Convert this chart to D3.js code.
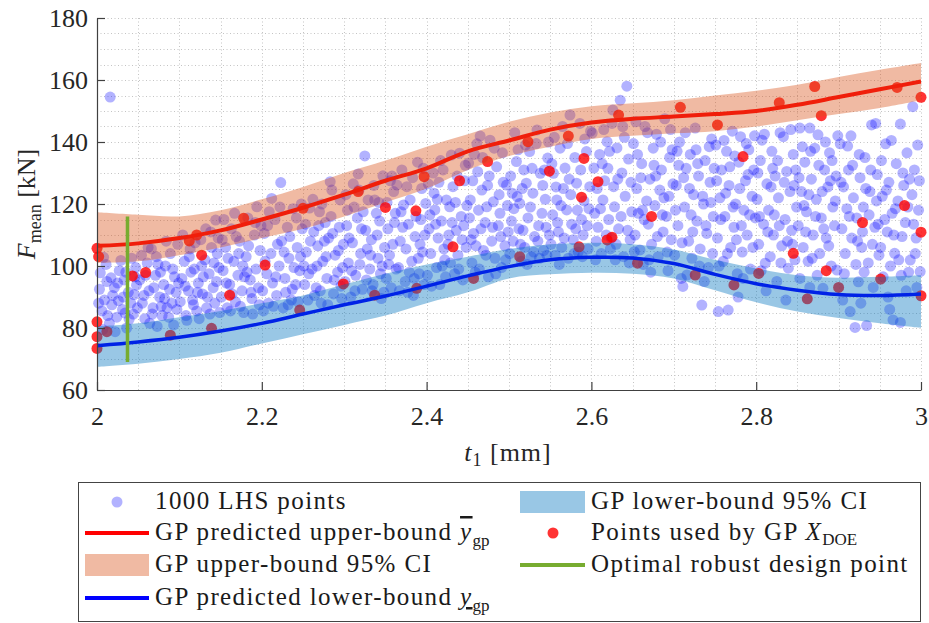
<!DOCTYPE html>
<html>
<head>
<meta charset="utf-8">
<script src="https://cdn.jsdelivr.net/npm/d3@7"></script>
<style>
  body { margin: 0; background: #fff; }
  svg text { font-family: "Liberation Serif", "Times New Roman", "DejaVu Serif", serif; }
</style>
</head>
<body>
<svg id="chart" width="929" height="623"></svg>
<script>
// GP grid of t1 values and predicted bounds
var tGrid = [2.00, 2.05, 2.10, 2.15, 2.20, 2.25, 2.30, 2.35, 2.40, 2.45, 2.50,
             2.55, 2.60, 2.65, 2.70, 2.75, 2.80, 2.85, 2.90, 2.95, 3.00];
var upperMean = [106.5, 107.3, 109, 111.5, 115, 118.8, 123, 127.5, 131.5, 137, 140.5,
                 144, 146.3, 147.5, 148.2, 149, 150, 152, 154.5, 157, 159.5];
var upperLo = [101, 101.5, 103.5, 106, 109, 112, 116, 120.5, 125, 131, 135.5,
               138.5, 141, 142, 142.8, 143.5, 145, 147, 149, 151, 153.5];
var upperHi = [117.3, 116.5, 116, 118, 121.5, 125.5, 130, 134, 138.5, 142.5, 146.5,
               149.5, 151.5, 152.5, 153.5, 155, 156.5, 158.5, 161, 163.3, 165.5];
var lowerMean = [74.3, 75.5, 77, 79, 81.5, 84.5, 87.5, 90.3, 93.5, 96.8, 99.8,
                 102, 102.8, 102.6, 100.8, 97.3, 94.3, 92.2, 90.8, 90.5, 91];
var lowerLo = [67.5, 68.5, 70, 72, 75, 78, 81, 84, 88, 91.5, 96,
               97.3, 97.8, 97.5, 96, 92.2, 88.3, 85.3, 83.2, 81.5, 80];
var lowerHi = [80.5, 81.5, 83.5, 85.5, 88, 90.5, 94, 97.5, 100.5, 103, 105.5,
               107, 107.5, 107, 105.3, 102, 99.2, 97, 96.2, 96.5, 97];

// optimal robust design point (vertical segment)
var optimalT = 2.037;
var optimalRange = [69, 116];

// points used by the GP (X_DOE)
var doePoints = [
  [2.000,105.7],[2.002,103],[2.000,82],[2.000,77.2],[2.000,73.4],[2.012,78.8],[2.043,96.8],[2.059,97.9],
  [2.089,77.7],[2.112,108.1],[2.121,110],[2.127,103.5],[2.139,79.9],[2.161,90.6],[2.178,115.4],[2.204,100.3],
  [2.246,85.8],[2.250,118.6],[2.299,94.2],[2.317,124],[2.337,90.6],[2.350,118.9],[2.387,117.8],[2.388,92.8],
  [2.397,128.8],[2.432,106.2],[2.440,127.5],[2.457,96],[2.474,133.7],[2.513,103],[2.523,140.1],[2.549,130.6],
  [2.572,141.9],[2.585,106.2],[2.588,122.2],[2.591,134.7],[2.608,127.2],[2.619,108.4],[2.625,109.3],[2.633,148.7],
  [2.656,100.9],[2.673,116],[2.708,151.2],[2.726,97.1],[2.753,145.5],[2.773,93.9],[2.784,135.3],[2.803,97.6],
  [2.828,152.7],[2.845,104.1],[2.862,89.4],[2.871,157.9],[2.879,148.5],[2.885,98.5],[2.900,93.1],[2.929,114],
  [2.951,95.8],[2.971,157.6],[2.980,119.5],[3.000,154.4],[3.000,110.9],[3.000,90.4]
];

// 1000 LHS points (slice by slice)
var lhsPoints = [
  [2.003,92.5],[2.006,85.5],[2.004,97.8],[2.009,89],[2.012,95],[2.015,81.5],[2.011,100.5],[2.018,87.5],[2.021,93],[2.016,154.5],
  [2.024,83.5],[2.027,98.5],[2.019,90.5],[2.031,86],[2.033,95.5],[2.029,101.8],[2.036,80],[2.038,91.5],[2.041,88],[2.044,84.5],
  [2.046,96.5],[2.048,93.8],[2.042,102.5],[2.035,98],[2.026,88.8],[2.013,84],[2.007,79.5],[2.022,78.8],[2.039,82.8],[2.047,99.5],
  [2.049,86.5],[2.032,90],[2.017,96.2],[2.008,102.8],[2.002,88],[2.045,90.8],[2.025,94.5],[2.034,84.8],
  [2.052,95.5],[2.055,88],[2.058,83],[2.061,101],[2.063,92],[2.066,105.5],[2.068,86.5],[2.071,97],[2.073,80.5],[2.076,90],
  [2.078,87],[2.081,94],[2.083,100],[2.085,86.5],[2.087,83.5],[2.089,104],[2.091,88],[2.094,96.5],[2.096,91.5],[2.098,107],
  [2.054,103.5],[2.059,97],[2.064,81.5],[2.069,93],[2.074,100.5],[2.079,84],[2.084,108],[2.088,92.5],[2.093,81],[2.097,86],
  [2.057,90.5],[2.062,106],[2.072,103],[2.082,89.5],[2.092,99],[2.099,94.5],[2.067,84.5],[2.077,98],
  [2.101,88.5],[2.103,96],[2.106,101.5],[2.108,84],[2.111,92],[2.113,105.5],[2.116,89],[2.118,99],[2.121,85.5],[2.123,94.5],
  [2.126,108.5],[2.128,91],[2.131,102],[2.133,86.5],[2.136,97.5],[2.138,111],[2.141,93],[2.143,88],[2.144,114.8],[2.146,104],
  [2.148,99.5],[2.104,110],[2.109,82.5],[2.114,98],[2.119,107.5],[2.124,83],[2.129,96.5],[2.134,90],[2.139,106],[2.149,85],
  [2.107,93.5],[2.117,87.5],[2.127,100],[2.137,84.5],[2.147,109],[2.112,103],[2.122,91.5],[2.132,112],[2.142,101],[2.145,95],
  [2.151,90],[2.153,98.5],[2.156,106],[2.158,86.5],[2.161,94],[2.163,112],[2.166,101.5],[2.168,88.5],[2.171,97],[2.173,108],
  [2.176,92],[2.178,85],[2.181,103],[2.183,115.5],[2.186,95.5],[2.188,89.5],[2.191,110],[2.193,99],[2.194,119.1],[2.196,93],
  [2.198,105],[2.154,115],[2.159,102.5],[2.164,91],[2.169,109.5],[2.174,87],[2.179,96.5],[2.184,106.5],[2.189,84.5],[2.199,113],
  [2.157,94.5],[2.167,117],[2.177,100],[2.187,91.5],[2.197,87.5],[2.162,85.5],[2.172,104],[2.182,98],[2.192,114],[2.152,108.5],
  [2.201,92],[2.203,110.5],[2.206,97.5],[2.208,88],[2.211,104],[2.212,121.8],[2.213,94.5],[2.216,115],[2.218,90.5],[2.221,100],
  [2.223,126.9],[2.224,108],[2.226,86.5],[2.228,96],[2.231,112.5],[2.233,102.5],[2.236,89],[2.238,118.5],[2.241,94],[2.243,106],
  [2.246,98.5],[2.248,120],[2.204,101.5],[2.209,117.5],[2.214,87],[2.219,107],[2.229,91.5],[2.234,109.5],[2.239,99.5],[2.244,88.5],
  [2.249,112],[2.207,113],[2.217,96.5],[2.227,104.5],[2.237,92.5],[2.247,103],[2.222,119],[2.232,87.5],[2.242,115.5],[2.202,85.5],
  [2.252,94],[2.254,104.5],[2.256,89],[2.258,118.7],[2.261,99],[2.263,111],[2.266,93],[2.268,106.5],[2.27,117.5],[2.272,88],
  [2.274,101.5],[2.277,114],[2.279,96],[2.281,109],[2.283,127.2],[2.285,124.5],[2.287,91],[2.289,103.5],[2.292,98],[2.294,112.5],
  [2.295,121.3],[2.297,89.5],[2.299,107],[2.253,113.5],[2.257,97.5],[2.262,121.5],[2.267,100],[2.271,92],[2.276,108],[2.28,87.5],
  [2.284,116],[2.288,95.5],[2.293,105],[2.298,99.5],[2.259,108],[2.264,90.5],[2.269,113],[2.278,103],[2.286,110.5],[2.296,93.5],
  [2.251,100],[2.273,120],
  [2.301,95],[2.303,113],[2.305,101],[2.308,90],[2.31,107.5],[2.312,119],[2.314,97],[2.317,129.7],[2.318,124.5],[2.32,104],
  [2.322,92.5],[2.325,135.5],[2.326,111.5],[2.329,121.3],[2.331,99],[2.333,108.5],[2.335,94],[2.337,121.3],[2.339,117],[2.341,102.5],
  [2.343,114.5],[2.345,89.5],[2.347,129.1],[2.349,106],[2.302,123],[2.306,109],[2.309,98.5],[2.313,92],[2.316,115.5],[2.319,100.5],
  [2.323,117.5],[2.327,95.5],[2.332,103.5],[2.336,126],[2.34,110],[2.344,97.5],[2.348,91.5],[2.304,118],[2.311,126.5],[2.321,112],
  [2.328,105.5],[2.334,92],[2.342,120.5],[2.346,100],
  [2.351,96],[2.353,112],[2.355,103.5],[2.357,93],[2.36,124],[2.362,117],[2.364,126.1],[2.366,99.5],[2.368,108],[2.37,131],
  [2.372,119.7],[2.374,95],[2.376,125.6],[2.378,113.5],[2.38,121.3],[2.382,101.5],[2.384,90.5],[2.386,109.5],[2.389,133.5],[2.391,97.5],
  [2.393,115],[2.395,104.5],[2.397,94],[2.399,120.2],[2.352,120.5],[2.356,127.5],[2.359,107],[2.363,99],[2.367,92],[2.371,112.5],
  [2.375,105.5],[2.379,98],[2.383,128.5],[2.387,116],[2.39,102.5],[2.394,125],[2.398,110],[2.354,100.5],[2.361,114],[2.369,117.5],
  [2.377,91.5],[2.385,96],[2.392,107],[2.396,131.5],[2.358,129],
  [2.401,97],[2.403,112],[2.405,104],[2.408,130],[2.409,123.5],[2.41,118.1],[2.412,99.5],[2.414,109],[2.416,94],[2.418,114.5],
  [2.42,131],[2.422,102],[2.424,121.3],[2.426,107],[2.428,119.1],[2.43,135.8],[2.432,125.6],[2.434,97.5],[2.436,111.5],[2.438,103.5],
  [2.44,136.4],[2.442,116],[2.444,95.5],[2.446,127.5],[2.448,106],[2.402,126.5],[2.406,93.5],[2.411,113.5],[2.415,127],[2.419,100],
  [2.423,96.5],[2.427,110],[2.431,114],[2.435,120.5],[2.439,99],[2.443,108.5],[2.447,132.5],[2.404,116.5],[2.413,121.5],[2.421,105.5],
  [2.429,101],[2.437,129],[2.445,113],[2.449,119.5],[2.417,134],
  [2.451,133.2],[2.453,121.3],[2.455,101],[2.457,110.5],[2.459,98],[2.461,139.4],[2.462,130.4],[2.465,141.9],[2.467,124.5],[2.469,105],
  [2.471,114],[2.473,119.1],[2.475,96.5],[2.477,140.6],[2.479,108],[2.481,120.7],[2.483,102.5],[2.485,132],[2.487,113],[2.489,117],
  [2.491,99.5],[2.493,127],[2.495,106.5],[2.497,126.1],[2.499,111],[2.452,115.5],[2.456,127.5],[2.46,106.5],[2.464,99],[2.468,135],
  [2.472,103.5],[2.476,129],[2.48,112.5],[2.484,97.5],[2.488,123],[2.492,136.5],[2.496,102],[2.454,108.5],[2.458,136],[2.466,112],
  [2.474,126],[2.482,138],[2.49,109.5],[2.498,119.5],[2.463,118],
  [2.501,104],[2.503,114.5],[2.505,108],[2.507,143],[2.509,133.7],[2.51,122.4],[2.513,120.2],[2.515,101.5],[2.517,111.5],[2.519,106],
  [2.521,126.7],[2.523,115.5],[2.525,136.9],[2.527,103],[2.529,123.5],[2.531,109.5],[2.534,143.9],[2.536,113],[2.538,129.9],[2.54,117],
  [2.542,105],[2.544,121.5],[2.547,134.8],[2.549,110],[2.502,129],[2.506,118.5],[2.511,137.5],[2.514,107],[2.518,131],[2.522,100.5],
  [2.526,119],[2.53,104.5],[2.533,139.5],[2.537,102.5],[2.541,126],[2.545,112.5],[2.548,140],[2.504,123.5],[2.512,112],[2.52,139],
  [2.528,131.5],[2.535,108],[2.543,131],[2.546,103.5],[2.516,125],
  [2.551,107],[2.553,116.5],[2.554,129.9],[2.556,103.5],[2.558,121.3],[2.56,111],[2.562,138],[2.564,106],[2.566,125],[2.568,131.6],
  [2.57,118.1],[2.572,102.5],[2.574,148.7],[2.576,113.5],[2.578,108.5],[2.58,135],[2.582,126.7],[2.584,104.5],[2.586,146],[2.588,115],
  [2.59,110],[2.592,141],[2.594,136.9],[2.596,105.5],[2.598,125.6],[2.552,133],[2.555,141.5],[2.559,114],[2.563,119.5],[2.567,109],
  [2.571,139.5],[2.575,123],[2.579,104],[2.583,118],[2.587,131],[2.591,121],[2.595,113],[2.599,143.5],[2.557,125.5],[2.565,145],
  [2.573,128],[2.581,112],[2.589,103],[2.597,118.5],[2.561,100.5],
  [2.601,142.9],[2.603,131.6],[2.604,117],[2.606,108],[2.608,112.5],[2.61,136],[2.612,104],[2.614,121.3],[2.616,127.5],[2.618,110],
  [2.619,140.1],[2.621,115],[2.623,105.5],[2.625,146],[2.626,150.3],[2.627,125.6],[2.628,119.1],[2.631,138.1],[2.633,112],[2.635,153.5],
  [2.637,130],[2.639,103],[2.641,122.5],[2.643,158],[2.645,134.5],[2.647,108.5],[2.649,117.5],[2.607,125],[2.611,118.5],[2.615,144],
  [2.62,131.5],[2.624,109],[2.629,102],[2.632,128],[2.636,116],[2.64,141.5],[2.644,111.5],[2.648,127],[2.605,102],[2.613,133],
  [2.622,137],[2.63,107],[2.638,145],[2.646,101],
  [2.651,139.5],[2.653,110],[2.655,125],[2.657,117],[2.659,105.2],[2.661,133],[2.663,100.5],[2.665,145],[2.667,121],[2.669,113.5],
  [2.671,128],[2.673,107],[2.675,138],[2.677,119.5],[2.679,142.5],[2.681,103],[2.683,124.5],[2.685,131],[2.687,111],[2.689,147.5],
  [2.691,116],[2.693,98.5],[2.695,135],[2.697,108.5],[2.699,126.5],[2.652,104.6],[2.656,136],[2.66,128.5],[2.664,115],[2.668,143],
  [2.672,98],[2.676,132.5],[2.68,109.5],[2.684,140],[2.688,122],[2.692,104.5],[2.696,144],[2.654,146.5],[2.662,118],[2.67,102],
  [2.678,129],[2.686,116.5],[2.694,122.5],[2.698,137.5],
  [2.701,103.5],[2.703,126],[2.705,113],[2.707,140],[2.709,96],[2.711,93.4],[2.713,119],[2.715,131.5],[2.716,97.1],[2.718,108],
  [2.72,136],[2.722,102.5],[2.724,123],[2.726,144.5],[2.728,114.5],[2.73,129],[2.732,105.5],[2.734,87.4],[2.736,120],[2.738,134],
  [2.74,110.5],[2.742,99.5],[2.744,127],[2.746,141],[2.748,116],[2.702,118],[2.706,132.5],[2.71,107.5],[2.714,143],[2.719,125],
  [2.723,111],[2.727,137.5],[2.731,100],[2.735,122.5],[2.739,113],[2.743,138.5],[2.747,104],[2.704,137],[2.712,128.5],[2.721,116.5],
  [2.729,133],[2.737,95],[2.745,120.5],[2.749,131.5],
  [2.751,139],[2.753,109],[2.754,85.3],[2.756,122],[2.758,131],[2.76,101.5],[2.762,116],[2.764,137],[2.766,85.8],[2.767,126],
  [2.769,106],[2.771,143.5],[2.773,112.5],[2.775,120],[2.777,97.5],[2.779,133.5],[2.781,141.7],[2.783,104.5],[2.785,118],[2.787,127.5],
  [2.789,110],[2.791,137.5],[2.793,99],[2.795,122.5],[2.797,131],[2.799,115.5],[2.752,127.5],[2.757,115],[2.761,140.5],[2.765,104],
  [2.768,132],[2.772,119],[2.776,108.5],[2.78,125],[2.784,96],[2.788,139.5],[2.792,116.5],[2.796,106],[2.755,100],[2.763,123.5],
  [2.774,135.5],[2.782,113],[2.79,129.5],[2.798,142],[2.778,90],
  [2.801,121.5],[2.803,107],[2.805,134],[2.807,140.6],[2.809,113.5],[2.811,100.9],[2.813,126.5],[2.815,118],[2.817,103],[2.819,137],
  [2.821,110],[2.823,129],[2.825,95],[2.827,122],[2.829,143],[2.831,106.5],[2.833,141.7],[2.835,115],[2.837,130.5],[2.839,99.3],
  [2.841,124],[2.843,111.5],[2.845,136],[2.847,102],[2.849,119],[2.802,130],[2.806,98.5],[2.81,142.5],[2.814,111],[2.818,125.5],
  [2.822,116.5],[2.826,134],[2.83,101],[2.834,127],[2.838,108],[2.842,144],[2.846,126],[2.804,116],[2.812,92],[2.82,131.5],
  [2.828,113],[2.836,89],[2.844,107],[2.848,131],
  [2.851,113],[2.853,96],[2.853,144.5],[2.855,124],[2.857,106],[2.859,133.5],[2.861,117.5],[2.863,101.5],[2.865,144.5],[2.865,93.1],
  [2.867,128],[2.869,110],[2.871,138],[2.873,121.5],[2.875,142.3],[2.877,104],[2.879,115.5],[2.881,92.8],[2.883,131],[2.885,109],
  [2.887,125.5],[2.889,136.5],[2.891,100],[2.893,119],[2.895,113],[2.897,129],[2.898,98.7],[2.852,128.5],[2.856,138.5],[2.86,111],
  [2.864,123],[2.868,102.5],[2.872,116],[2.876,132.5],[2.88,124],[2.884,140],[2.888,106.5],[2.892,134],[2.896,121],[2.858,119.5],
  [2.866,137],[2.874,97],[2.882,112],[2.89,127.5],[2.899,142],
  [2.902,139.4],[2.904,112],[2.906,125.5],[2.908,104],[2.91,118.5],[2.911,138.7],[2.912,131],[2.914,85.3],[2.916,109],[2.918,122],
  [2.92,80.2],[2.922,115.5],[2.924,94.9],[2.926,128.5],[2.928,106],[2.93,119],[2.932,135],[2.934,80.8],[2.936,101],[2.938,124],
  [2.94,145.5],[2.942,93.1],[2.944,112.5],[2.945,146],[2.947,129.5],[2.949,103.5],[2.903,127],[2.907,97.5],[2.913,116],[2.917,132.5],
  [2.921,100.5],[2.925,136],[2.929,111],[2.933,125],[2.937,116.5],[2.941,107],[2.946,121],[2.905,89],[2.915,142],[2.923,108],
  [2.931,98],[2.939,131],[2.948,113.5],[2.927,88],
  [2.951,106],[2.953,122.5],[2.954,96.5],[2.957,139.4],[2.959,111],[2.961,127],[2.963,100],[2.965,117],[2.966,82.6],[2.968,104.1],
  [2.97,133],[2.972,121],[2.975,145.8],[2.975,81.8],[2.977,109.5],[2.979,126],[2.981,114],[2.983,136.5],[2.985,98],[2.987,101.9],
  [2.989,123],[2.99,151.4],[2.992,131],[2.994,109],[2.995,93.1],[2.997,118],[2.999,98.2],[2.952,134],[2.956,115],[2.96,90],
  [2.964,140.5],[2.969,118.5],[2.973,102],[2.978,130],[2.982,92],[2.986,128],[2.991,113.5],[2.996,139],[2.958,124.5],[2.967,110],
  [2.976,97],[2.984,119],[2.993,104],[2.998,127.5],[2.962,86]
];

var xTicks = [2, 2.2, 2.4, 2.6, 2.8, 3];
var yTicks = [60, 80, 100, 120, 140, 160, 180];
var serif = "'Liberation Serif', 'Times New Roman', 'DejaVu Serif', serif";

var svg = d3.select("#chart");
var x = d3.scaleLinear().domain([2, 3]).range([97, 921]);
var y = d3.scaleLinear().domain([60, 180]).range([390, 18]);

// dotted grid (major + minor)
var grid = svg.append("g").attr("stroke", "#c4c4c4").attr("stroke-width", 1)
  .attr("stroke-dasharray", "1,2.5");
grid.selectAll(".gx").data(d3.range(2.05, 3.001, 0.05)).enter().append("line")
  .attr("x1", function(d) { return Math.round(x(d)) + 0.5; })
  .attr("x2", function(d) { return Math.round(x(d)) + 0.5; })
  .attr("y1", y(180)).attr("y2", y(60));
grid.selectAll(".gy").data(d3.range(65, 180.1, 5)).enter().append("line")
  .attr("y1", function(d) { return Math.round(y(d)) + 0.5; })
  .attr("y2", function(d) { return Math.round(y(d)) + 0.5; })
  .attr("x1", x(2)).attr("x2", x(3));

// LHS points
svg.append("g").selectAll("circle").data(lhsPoints).enter().append("circle")
  .attr("cx", function(d) { return x(d[0]); })
  .attr("cy", function(d) { return y(d[1]); })
  .attr("r", 5.5)
  .attr("fill", "#0000ff")
  .attr("fill-opacity", 0.3);

// DOE points
svg.append("g").selectAll("circle").data(doePoints).enter().append("circle")
  .attr("cx", function(d) { return x(d[0]); })
  .attr("cy", function(d) { return y(d[1]); })
  .attr("r", 5.5)
  .attr("fill", "#ff0000")
  .attr("fill-opacity", 0.8);

// confidence bands
var band = function(lo, hi) {
  return d3.area()
    .x(function(d, i) { return x(tGrid[i]); })
    .y0(function(d, i) { return y(lo[i]); })
    .y1(function(d, i) { return y(hi[i]); })
    .curve(d3.curveCatmullRom)(tGrid);
};
svg.append("path").attr("d", band(upperLo, upperHi))
  .attr("fill", "rgb(217,83,25)").attr("fill-opacity", 0.4);
svg.append("path").attr("d", band(lowerLo, lowerHi))
  .attr("fill", "rgb(0,114,189)").attr("fill-opacity", 0.4);

// predicted bounds
var line = function(vals) {
  return d3.line()
    .x(function(d, i) { return x(tGrid[i]); })
    .y(function(d, i) { return y(vals[i]); })
    .curve(d3.curveCatmullRom)(tGrid);
};
svg.append("path").attr("d", line(upperMean))
  .attr("fill", "none").attr("stroke", "#f01e0a").attr("stroke-width", 4);
svg.append("path").attr("d", line(lowerMean))
  .attr("fill", "none").attr("stroke", "#0022e6").attr("stroke-width", 3.5);

// optimal design point
svg.append("line")
  .attr("x1", x(optimalT)).attr("x2", x(optimalT))
  .attr("y1", y(optimalRange[0])).attr("y2", y(optimalRange[1]))
  .attr("stroke", "#77ac30").attr("stroke-width", 3.5);

// axes
var axisColor = "#404040";
var gx = svg.append("g").attr("transform", "translate(0," + y(60) + ")")
  .call(d3.axisBottom(x).tickValues(xTicks).tickFormat(d3.format("")).tickSizeInner(-8).tickSizeOuter(0).tickPadding(17));
var gy = svg.append("g").attr("transform", "translate(" + x(2) + ",0)")
  .call(d3.axisLeft(y).tickValues(yTicks).tickSizeInner(-8).tickSizeOuter(0).tickPadding(9));
[gx, gy].forEach(function(g) {
  g.attr("font-family", serif).attr("font-size", null);
  g.select(".domain").attr("stroke", axisColor).attr("stroke-width", 1.2);
  g.selectAll(".tick line").attr("stroke", axisColor).attr("stroke-width", 1.2);
  g.selectAll(".tick text").attr("fill", "#262626").style("font-family", serif).style("font-size", "26px");
});

// axis labels
var xl = svg.append("text").attr("x", 508).attr("y", 461).attr("text-anchor", "middle")
  .attr("fill", "#262626").style("font-family", serif).style("font-size", "26px").style("letter-spacing", "1px");
xl.append("tspan").attr("font-style", "italic").text("t");
xl.append("tspan").attr("dy", 5).style("font-size", "18px").text("1");
xl.append("tspan").attr("dy", -5).text(" [mm]");

var yl = svg.append("text").attr("transform", "translate(35,204) rotate(-90)")
  .attr("text-anchor", "middle").attr("fill", "#262626").style("font-family", serif).style("font-size", "26px");
yl.append("tspan").attr("font-style", "italic").text("F");
yl.append("tspan").attr("dy", 6).style("font-size", "18px").text("mean");
yl.append("tspan").attr("dy", -6).text(" [kN]");

// legend
var legend = svg.append("g");
legend.append("rect").attr("x", 78.5).attr("y", 482.5).attr("width", 842).attr("height", 139)
  .attr("fill", "#fff").attr("stroke", "#444").attr("stroke-width", 1);

var rowY = [502, 533, 565, 598];
var col1 = 85, col2 = 520, sampleW = 64;

legend.append("circle").attr("cx", col1 + sampleW / 2).attr("cy", rowY[0]).attr("r", 5.5)
  .attr("fill", "#0000ff").attr("fill-opacity", 0.3);
legend.append("line").attr("x1", col1).attr("x2", col1 + sampleW).attr("y1", rowY[1]).attr("y2", rowY[1])
  .attr("stroke", "#ff0000").attr("stroke-width", 4);
legend.append("rect").attr("x", col1).attr("y", rowY[2] - 11).attr("width", sampleW).attr("height", 22)
  .attr("fill", "rgb(217,83,25)").attr("fill-opacity", 0.4);
legend.append("line").attr("x1", col1).attr("x2", col1 + sampleW).attr("y1", rowY[3]).attr("y2", rowY[3])
  .attr("stroke", "#0000ff").attr("stroke-width", 4);
legend.append("rect").attr("x", col2).attr("y", rowY[0] - 11).attr("width", sampleW + 1).attr("height", 22)
  .attr("fill", "rgb(0,114,189)").attr("fill-opacity", 0.4);
legend.append("circle").attr("cx", col2 + 33).attr("cy", rowY[1]).attr("r", 5.5)
  .attr("fill", "#ff0000").attr("fill-opacity", 0.8);
legend.append("line").attr("x1", col2).attr("x2", col2 + sampleW + 1).attr("y1", rowY[2]).attr("y2", rowY[2])
  .attr("stroke", "#77ac30").attr("stroke-width", 4);

function legendText(tx, row) {
  return legend.append("text").attr("x", tx).attr("y", rowY[row] + 7).attr("fill", "#1a1a1a")
    .style("font-family", serif).style("font-size", "25px").style("letter-spacing", "1.4px");
}
legendText(155, 0).text("1000 LHS points");
var t2 = legendText(155, 1);
t2.append("tspan").text("GP predicted upper-bound ");
t2.append("tspan").attr("font-style", "italic").style("text-decoration", "overline").text("y");
t2.append("tspan").attr("dy", 6).style("font-size", "17px").style("letter-spacing", "0px").text("gp");
legendText(155, 2).text("GP upper-bound 95% CI");
var t4 = legendText(155, 3);
t4.append("tspan").text("GP predicted lower-bound ");
t4.append("tspan").attr("font-style", "italic").style("text-decoration", "underline").text("y");
t4.append("tspan").attr("dy", 6).style("font-size", "17px").style("letter-spacing", "0px").text("gp");
legendText(591, 0).text("GP lower-bound 95% CI");
var t6 = legendText(591, 1);
t6.append("tspan").text("Points used by GP ");
t6.append("tspan").attr("font-style", "italic").text("X");
t6.append("tspan").attr("dy", 5).style("font-size", "17px").style("letter-spacing", "0px").text("DOE");
legendText(591, 2).text("Optimal robust design point");
</script>
</body>
</html>
